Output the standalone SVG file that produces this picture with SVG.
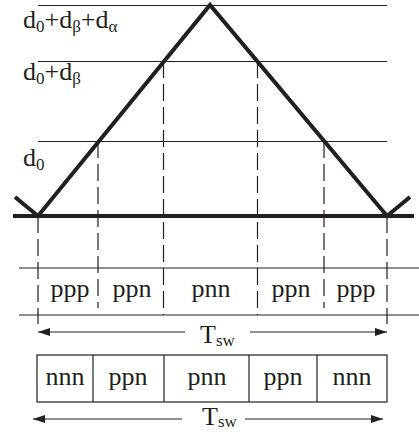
<svg xmlns="http://www.w3.org/2000/svg" width="419" height="432" viewBox="0 0 419 432">
<defs>
<style>
.thin{stroke:#231f20;stroke-width:1.2;fill:none}
.thick{stroke:#231f20;stroke-width:4;fill:none;stroke-linejoin:miter}
.dash{stroke:#231f20;stroke-width:1.2;fill:none;stroke-dasharray:17 6}
.sub{font-size:17px}
.c{text-anchor:middle}
</style>
<marker id="ah" viewBox="0 0 12 8" refX="12" refY="4" markerWidth="12" markerHeight="8" markerUnits="userSpaceOnUse" orient="auto">
<path d="M0,0 L12,4 L0,8 Z" fill="#231f20"/>
</marker>
</defs>
<g id="levels">
<line class="thin" x1="38" y1="5.5" x2="387" y2="5.5"/>
<line class="thin" x1="38" y1="61.5" x2="387" y2="61.5"/>
<line class="thin" x1="38" y1="141.5" x2="387" y2="141.5"/>
<line class="thin" x1="19" y1="268" x2="419" y2="268"/>
<line class="thin" x1="19" y1="315" x2="419" y2="315"/>
</g>
<g font-family="'Liberation Serif','DejaVu Serif',serif" font-size="26" fill="#231f20">
<g id="level-labels">
<text x="23" y="28">d<tspan class="sub" dy="4">0</tspan><tspan dy="-4">+d</tspan><tspan class="sub" dy="4">β</tspan><tspan dy="-4">+d</tspan><tspan class="sub" dy="4">α</tspan></text>
<text x="23" y="80">d<tspan class="sub" dy="4">0</tspan><tspan dy="-4">+d</tspan><tspan class="sub" dy="4">β</tspan></text>
<text x="23" y="166">d<tspan class="sub" dy="4">0</tspan></text>
</g>
<g id="row-labels">
<text class="c" x="70" y="297">ppp</text>
<text class="c" x="132" y="297">ppn</text>
<text class="c" x="211" y="297">pnn</text>
<text class="c" x="291" y="297">ppn</text>
<text class="c" x="356" y="297">ppp</text>
<text x="200" y="343">T<tspan class="sub" dy="3">sw</tspan></text>
</g>
<g id="box-labels">
<text class="c" x="65" y="385">nnn</text>
<text class="c" x="128" y="385">ppn</text>
<text class="c" x="207" y="385">pnn</text>
<text class="c" x="283" y="385">ppn</text>
<text class="c" x="352" y="385">nnn</text>
<text x="202" y="425">T<tspan class="sub" dy="2">sw</tspan></text>
</g>
</g>
<g id="carrier">
<line class="thick" x1="13" y1="216" x2="414" y2="216"/>
<polyline class="thick" points="15,197 38,216 210,5 387,216 410,197"/>
</g>
<g id="connectors">
<line class="dash" x1="38" y1="216" x2="38" y2="324"/>
<line class="dash" x1="98" y1="141" x2="98" y2="308"/>
<line class="dash" x1="163.5" y1="61" x2="163.5" y2="315"/>
<line class="dash" x1="257.5" y1="61" x2="257.5" y2="315"/>
<line class="dash" x1="324" y1="141" x2="324" y2="308"/>
<line class="dash" x1="387" y1="216" x2="387" y2="324"/>
<line class="thin" x1="185" y1="332" x2="38" y2="332" marker-end="url(#ah)"/>
<line class="thin" x1="250" y1="332" x2="387" y2="332" marker-end="url(#ah)"/>
<line class="thin" x1="182" y1="419" x2="33" y2="419" marker-end="url(#ah)"/>
<line class="thin" x1="245" y1="419" x2="383" y2="419" marker-end="url(#ah)"/>
</g>
<g id="boxes">
<rect class="thin" x="37" y="355" width="350" height="47"/>
<line class="thin" x1="93" y1="355" x2="93" y2="402"/>
<line class="thin" x1="164" y1="355" x2="164" y2="402"/>
<line class="thin" x1="249" y1="355" x2="249" y2="402"/>
<line class="thin" x1="317" y1="355" x2="317" y2="402"/>
</g>
</svg>
